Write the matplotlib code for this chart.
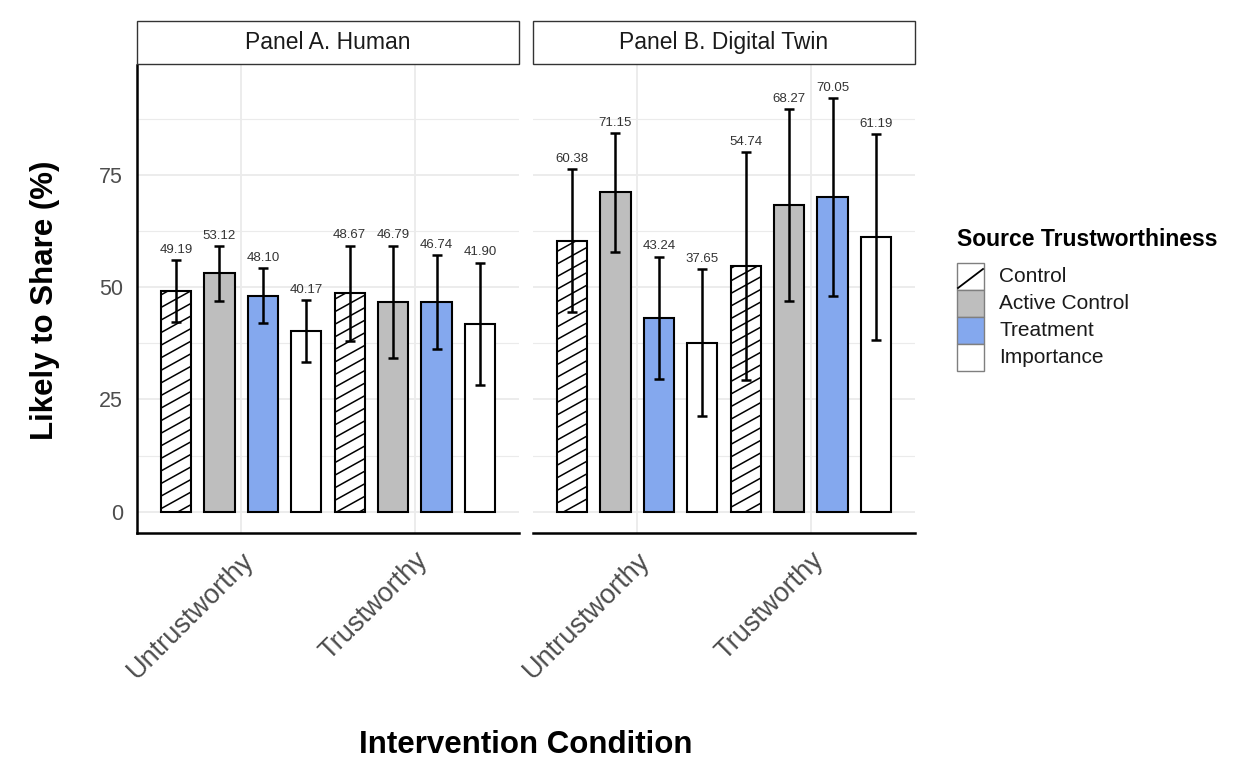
import numpy as np
import matplotlib
matplotlib.use('Agg')
import matplotlib.pyplot as plt
from matplotlib.patches import Rectangle
from matplotlib.lines import Line2D
from matplotlib.collections import LineCollection
from matplotlib.transforms import IdentityTransform

plt.rcParams['font.family'] = ['Liberation Sans', 'DejaVu Sans']

# data: mean share rate and error half-width per panel / condition / group
panels = ['Panel A. Human', 'Panel B. Digital Twin']
conditions = ['Untrustworthy', 'Trustworthy']
groups = ['Control', 'Active Control', 'Treatment', 'Importance']
human_means = [[49.19, 53.12, 48.10, 40.17], [48.67, 46.79, 46.74, 41.90]]
human_err = [[6.9, 6.1, 6.1, 6.9], [10.6, 12.5, 10.4, 13.6]]
twin_means = [[60.38, 71.15, 43.24, 37.65], [54.74, 68.27, 70.05, 61.19]]
twin_err = [[15.9, 13.2, 13.6, 16.4], [25.3, 21.4, 22.1, 23.0]]

fills = ['white', '#BEBEBE', '#84A8EE', 'white']
striped = [True, False, False, False]

W, H = 1254, 774
fig = plt.figure(figsize=(W / 100, H / 100), dpi=100)


def px(x0, y0, x1, y1):
    # pixel box (top-left origin) -> figure fraction rect
    return [x0 / W, 1 - y1 / H, (x1 - x0) / W, (y1 - y0) / H]


def stripe(ax, bar, angle=29, spacing=11.0):
    # diagonal stripes drawn in pixel space, clipped to the bar
    bb = bar.get_window_extent()
    x0, y0, x1, y1 = bb.x0, bb.y0, bb.x1, bb.y1
    t = np.tan(np.radians(angle))
    step = spacing / np.cos(np.radians(angle))
    cmin = y0 - t * x1
    cmax = y1 - t * x0
    segs = []
    for k in range(int(np.floor(cmin / step)) - 1, int(np.ceil(cmax / step)) + 2):
        c = k * step
        segs.append([(x0 - 2, c + t * (x0 - 2)), (x1 + 2, c + t * (x1 + 2))])
    lc = LineCollection(segs, colors='black', linewidths=1.1,
                        transform=IdentityTransform(), zorder=2.5)
    ax.add_collection(lc, autolim=False)
    lc.set_clip_path(bar)


all_means = [human_means, twin_means]
all_err = [human_err, twin_err]
lefts = [137, 533]
step = 0.25
bw = 0.175

for p in range(2):
    ax = fig.add_axes(px(lefts[p], 65, lefts[p] + 382, 533))
    ax.set_xlim(-0.6, 1.6)
    ax.set_ylim(-4.75, 99.5)
    for s in ax.spines.values():
        s.set_visible(False)
    ax.set_yticks([0, 25, 50, 75])
    ax.set_yticks([12.5, 37.5, 62.5, 87.5], minor=True)
    ax.set_xticks([0, 1])
    ax.grid(which='major', color='#EBEBEB', lw=1.3, zorder=0)
    ax.grid(which='minor', axis='y', color='#EBEBEB', lw=0.8, zorder=0)
    ax.tick_params(which='both', length=0)
    ax.tick_params(axis='y', labelsize=15.5, labelcolor='#4D4D4D', pad=10)
    ax.set_xticklabels(conditions, rotation=45, ha='right', va='top',
                       rotation_mode='anchor', fontsize=19.5, color='#4D4D4D')
    ax.tick_params(axis='x', pad=10)
    if p == 1:
        ax.set_yticklabels([])
    # axis lines
    ax.axhline(-4.75, color='black', lw=1.8, clip_on=False, zorder=5)
    if p == 0:
        ax.axvline(-0.6, color='black', lw=1.8, clip_on=False, zorder=5)

    for ci in range(len(conditions)):
        for g in range(len(groups)):
            m = all_means[p][ci][g]
            e = all_err[p][ci][g]
            x = ci + (g - 1.5) * step
            bar = ax.bar(x, m, width=bw, color=fills[g], edgecolor='black',
                         linewidth=1.5, zorder=2)[0]
            if striped[g]:
                stripe(ax, bar)
            ax.errorbar(x, m, yerr=e, fmt='none', ecolor='black',
                        elinewidth=1.8, capsize=3.5, capthick=1.8, zorder=4)
            ax.annotate('%.2f' % m, (x, m + e), xytext=(0, 3),
                        textcoords='offset points', ha='center', va='bottom',
                        fontsize=9.5, color='#333333', zorder=6)

    # facet strip
    fig.add_artist(Rectangle((lefts[p] / W, 1 - 64 / H), 382 / W, 43 / H,
                             transform=fig.transFigure, facecolor='white',
                             edgecolor='#333333', lw=1.0))
    fig.text((lefts[p] + 191) / W, 1 - 42.5 / H, panels[p], ha='center',
             va='center', fontsize=16.5, color='#1A1A1A')

fig.text(45 / W, 1 - 300 / H, 'Likely to Share (%)', rotation=90,
         ha='center', va='center', fontsize=22.5, fontweight='bold')
fig.text(526 / W, 1 - 745 / H, 'Intervention Condition', ha='center',
         va='center', fontsize=22.5, fontweight='bold')

# legend
fig.text(957 / W, 1 - 239 / H, 'Source Trustworthiness', ha='left',
         va='center', fontsize=16.5, fontweight='bold')
key_top = 263
key_h = 27
for g, name in enumerate(groups):
    y0 = key_top + g * key_h
    fig.add_artist(Rectangle((957 / W, 1 - (y0 + key_h) / H), 27 / W,
                             key_h / H, transform=fig.transFigure,
                             facecolor=fills[g], edgecolor='#7F7F7F', lw=1.0))
    if striped[g]:
        fig.add_artist(Line2D([958 / W, 983 / W],
                              [1 - (y0 + 25) / H, 1 - (y0 + 6) / H],
                              transform=fig.transFigure, color='black',
                              lw=1.3))
    fig.text(999 / W, 1 - (y0 + key_h / 2) / H, name, ha='left',
             va='center', fontsize=15, color='#1A1A1A')

fig.savefig('out.png', dpi=100, facecolor='white')
